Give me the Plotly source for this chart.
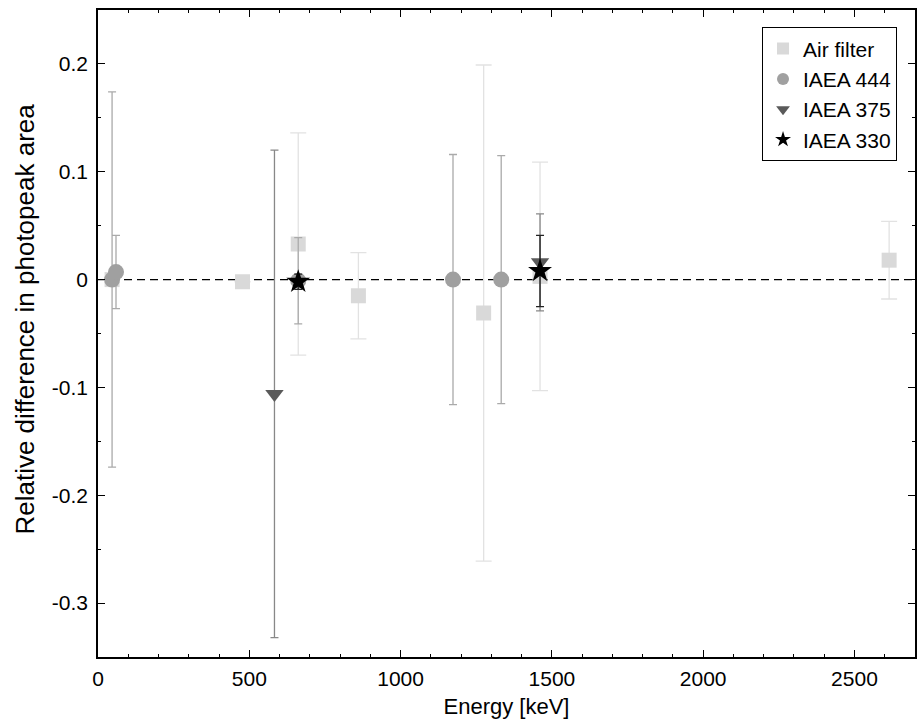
import plotly.graph_objects as go

# Air filter
air_E = [46.5, 477.6, 661.7, 860.6, 1274.5, 1460.8, 2614.5]
air_y = [0.0, -0.002, 0.033, -0.015, -0.031, 0.003, 0.018]
air_err = [0.0, 0.0, 0.103, 0.040, 0.230, 0.106, 0.036]

# IAEA 444
i444_E = [46.5, 59.5, 661.7, 1173.2, 1332.5]
i444_y = [0.0, 0.007, -0.001, 0.0, 0.0]
i444_err = [0.174, 0.034, 0.040, 0.116, 0.115]

# IAEA 375
i375_E = [583.2, 1460.8]
i375_y = [-0.106, 0.016]
i375_err = [0.226, 0.045]

# IAEA 330
i330_E = [661.7, 1460.8]
i330_y = [-0.002, 0.008]
i330_err = [0.007, 0.033]

FONT = "Liberation Sans, Arial, sans-serif"

fig = go.Figure()

def add(E, y, err, name, color, ecolor, symbol, size, ew):
    fig.add_trace(go.Scatter(
        x=E, y=y, mode="markers", name=name,
        marker=dict(color=color, symbol=symbol, size=size, line=dict(width=0)),
        error_y=dict(type="data", array=err, visible=True, color=ecolor,
                     thickness=1.3, width=ew),
    ))

add(air_E, air_y, air_err, "Air filter", "#d9d9d9", "#e2e2e2", "square", 15, 8)
add(i444_E, i444_y, i444_err, "IAEA 444", "#a0a0a0", "#aaaaaa", "circle", 16, 4)
add(i375_E, i375_y, i375_err, "IAEA 375", "#5a5a5a", "#888888", "triangle-down", 16, 4)
add(i330_E, i330_y, i330_err, "IAEA 330", "#000000", "#222222", "star", 18, 4)

fig.add_hline(y=0, line=dict(color="black", width=1.2, dash="8px,5px"), layer="below")

axis_common = dict(
    showline=True, linecolor="black", linewidth=1.5, mirror="allticks",
    ticks="inside", ticklen=7, tickcolor="black", showgrid=False, zeroline=False,
    tickfont=dict(family=FONT, size=21, color="black"),
)

fig.update_xaxes(
    range=[0, 2700], tickvals=[0, 500, 1000, 1500, 2000, 2500],
    minor=dict(ticks="inside", ticklen=3, dtick=100, tickcolor="black", showgrid=False),
    ticklabelstandoff=2,
    title=dict(text="Energy [keV]", font=dict(family=FONT, size=22, color="black"), standoff=10),
    **axis_common,
)
fig.update_yaxes(
    range=[-0.35, 0.25], tickvals=[-0.3, -0.2, -0.1, 0, 0.1, 0.2],
    ticktext=["-0.3", "-0.2", "-0.1", "0", "0.1", "0.2"],
    minor=dict(ticks="inside", ticklen=3, dtick=0.05, tickcolor="black", showgrid=False),
    ticklabelstandoff=4,
    **axis_common,
)

fig.add_annotation(
    text="Relative difference in photopeak area", textangle=-90,
    xref="paper", yref="paper", x=-0.089, y=0.522,
    xanchor="center", yanchor="middle", showarrow=False,
    font=dict(family=FONT, size=26, color="black"),
)

fig.update_layout(
    width=919, height=721,
    margin=dict(l=98, r=2, t=10, b=64),
    plot_bgcolor="white", paper_bgcolor="white",
    font=dict(family=FONT, size=20, color="black"),
    legend=dict(x=0.978, y=0.973, xanchor="right", yanchor="top",
                bordercolor="black", borderwidth=1, bgcolor="white",
                font=dict(family=FONT, size=21), itemsizing="constant",
                tracegroupgap=0),
    showlegend=True,
)

fig.write_html("out.html")
